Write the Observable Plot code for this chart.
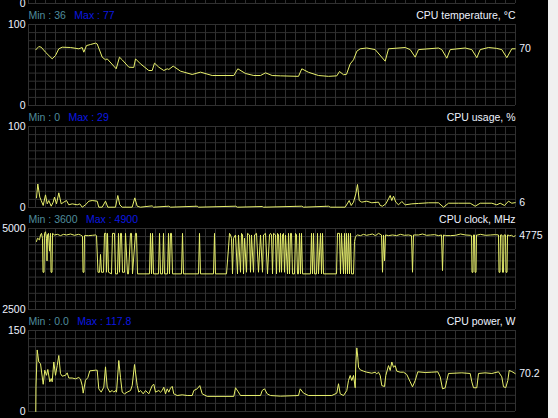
<!DOCTYPE html>
<html><head><meta charset="utf-8">
<script src="https://cdn.jsdelivr.net/npm/d3@7"></script>
<script src="https://cdn.jsdelivr.net/npm/@observablehq/plot@0.6"></script>
<style>
html,body{margin:0;padding:0;background:#000;overflow:hidden}
#wrap{position:relative;width:558px;height:418px;background:#000;overflow:hidden}
#scroll{position:absolute;left:548px;top:0;width:10px;height:418px;background:#f0f0f0}
.panel{position:absolute;left:0}
</style></head><body><div id="wrap"><div id="scroll"></div></div>
<script>
// ---- data ----
const titles = ["CPU temperature, °C", "CPU usage, %", "CPU clock, MHz", "CPU power, W"];
const minLabels = ["Min : 36", "Min : 0", "Min : 3600", "Min : 0.0"];
const maxLabels = ["Max : 77", "Max : 29", "Max : 4900", "Max : 117.8"];
const domains = [[0, 100], [0, 100], [2500, 5000], [0, 150]];

const tempT = [0.3,3.3,5.7,10,16.7,20,23.3,26.7,35,43.3,46.7,48.3,51,55,60,61.7,66.7,70,71.7,80.7,84,86.7,93.3,98.3,100,105,113.3,116.7,119,123.3,128.3,131.7,133.3,137.7,145,156.7,165,176.7,198.3,202.3,210,218.3,225,230,236.7,245,263,266.3,273,283,293,301.3,304,308,311,314.7,318,321.3,324.7,331.3,339.7,349.7,353,369.7,374.7,379.7,383,403,406.3,411.3,414.7,429.7,436.3,441.3,444.7,453,461.3,466.3,471.3,476.3,479.7];
const tempV = [68.8,72.8,72,65.8,57.6,61.7,70,72,71.6,70,71.6,65.8,74,75.3,77,76,59.7,56.4,57.6,45.3,59.7,56.4,47.3,47,57.6,51.4,43.2,43.2,52.3,47.3,43.2,45.3,44.5,48.6,42.4,38.3,41.2,37,37,45.3,39.5,37,37,40.3,37,36.6,36,45.3,41,37,36,36.6,42,38,38.5,51.4,56.4,67,70,71,69,54.7,70,71.6,69,59.7,69,71,69,58.4,69,71,69,59,69,71.6,70.5,69,59,70,70];

const usageT = [1,2.3,4.3,5.7,7.7,10,11.7,13.3,15.7,17.7,19,21,23.3,25.7,28.3,31,33.3,36.7,41.7,44.3,46.7,50,53.3,56.7,61.7,63.3,66.7,70,72.3,80,82.3,84.3,86.7,96.7,99.3,101.7,105,116.7,118,133.3,135,161.7,163,200,202,226.7,228,266.3,268,293,295,309.7,313.7,315.7,318,320.3,322,323.7,326.3,331.3,336.3,343,344.7,347,350.3,353,354.7,356.3,358,360.3,363,366.3,369.7,376.3,383,393,403,408,413,423,434.7,439.7,444.7,456.3,461.3,464.7,469,473,476.3,479.7];
const usageV = [11.9,29,12.8,8.6,2.5,15.6,4.5,8.6,1.6,6.6,12.8,4.5,18.1,4.5,6.6,8.6,3.3,4.5,3.3,4.5,0.4,3.3,7.8,8.6,7.8,0.4,0.4,7.8,0.4,0.4,14.8,3.3,0.4,0.4,11.9,1.6,0.4,2,0.4,1.6,0.4,1.6,0.4,1.6,0.4,1.2,0.4,1.6,0.4,1.6,0.4,0.4,8.6,2.5,6.6,16.9,28.4,8.6,6.6,7.8,5.8,6.6,2.5,1.6,4.5,10.7,14.8,8.6,14,6.6,3.3,7.4,3.3,4.5,5,5.8,5.8,0.4,5.3,5.3,5.3,1.6,5.3,5.3,3.3,5.3,2.5,7.8,5.3,6];

const clockT = [1,2,4,5,6,7,7.5,8.5,9,10,11,11.5,12,13,14,15,15.5,16.5,17,19,22,25,28,31,35,39,43,45,47,47.5,48.5,49,53,57,60,61,62.5,64,65,66,68,69,70.5,71,72,73,76,77,79,80,82,83,84,85,86,87,89,90,92,93,95,96,97,100,101,102,114,115,116,117,118,123,124,125,127,128,129,132,133,134,135,136,137,146,147,148,163,164,165,178,179,180,191,193,194,195,196,197,198,200,202,203,205,206,207,208,209,211,212,214,215,216,218,219,221,223,225,227,228,230,232,234,235,236,237,238,240,241,242,243,244,245,246,247,248,249,250,252,253,254,255,256,257,259,260,261,262,263,264,265,266,267,275,276,277,278,279,281,282,283,285,286,287,288,301,302,304,305,306,308,309,310,311,312,313,314,315,316,318,319,320,322,325,328,331,334,337,340,343,346,347,348,349,350,353,357,361,365,369,373,376,377,378,383,387,391,395,399,403,406,407,408,410,415,420,425,430,435,436,436.5,437.5,438,439,439.5,440.5,441,442,445,450,455,460,463,463.5,464.5,465,466.5,467,468,468.5,470,470.5,471.5,472,474,476,478,479.7];
const clockV = [4600,4700,4650,4800,4850,4700,3650,3650,4850,4900,4700,4000,4800,4850,4300,4850,3650,3650,4850,4800,4820,4780,4820,4800,4830,4790,4820,4800,4760,3650,3650,4780,4780,4790,4800,4780,3650,3650,4200,3650,3650,4850,4850,3650,4850,3650,3600,4850,4850,3600,3600,4850,3650,4850,4850,3650,3650,4850,3600,3600,4850,4850,3600,4850,4850,3600,3600,4850,3600,4850,3600,3600,4850,3600,3600,4850,3600,3600,4850,3600,4850,4850,3600,3600,4850,3600,3600,4850,3600,3600,4850,3600,3600,4400,4850,4800,4700,3600,4700,4800,3600,4800,3650,4850,4800,3600,4700,3650,4850,4800,3650,4800,3650,4800,4850,3650,4800,3650,4800,4850,3600,4800,4850,4800,3600,4850,4800,3600,4850,4800,3650,4850,3650,4800,4850,3650,4800,3600,4850,3600,4850,4850,3600,3600,4850,4800,3600,3600,4850,3600,4850,3600,3600,4850,3600,4850,3600,3600,4850,3600,4850,3600,4850,3600,3600,4850,4850,3600,4850,3600,4850,3600,4850,3600,4850,3600,4850,3600,3600,4600,4750,4800,4780,4820,4790,4810,4830,4780,4850,4800,3650,4800,4000,4800,4780,4800,4780,4820,4790,4800,4780,3650,4800,4800,4830,4790,4800,4810,4780,4800,3700,4800,4780,4780,4790,4830,4800,4790,4780,3650,3650,4800,4800,3650,3650,4800,4800,4820,4790,4800,4810,4800,3650,3650,4800,4800,3650,3650,4800,4800,3650,3650,4800,4780,4790,4750,4775];

const powerT = [0.3,0.5,1.7,3.3,5,7.7,9.3,11,12.3,14.3,15.7,16.7,18.3,20,21.7,23.3,25,26.7,30,31.7,33.3,36.7,40,43.3,45,46.7,47.7,50,52.3,54.3,60,61.7,63.3,65.7,68.3,70,71.7,74.3,76.7,78.3,80,81,83.3,85,86.7,89,91.7,95,96.7,99,101.7,103.3,105,107.7,110,113.3,116.7,118.3,120,123.3,125,126.7,128.3,130,131.7,133.3,135,136.7,138.3,141.7,146.7,151.7,156.7,158.3,161.7,164.3,166.7,171.7,198.3,200,202.3,205,225,226.7,229,231.7,235,245,263,264.7,268,273,296.3,301.3,303,304.7,308,311.3,313,314.7,316.3,318,319.7,320.3,321.3,322.3,323,324.7,328,331.3,336.3,339.7,341.3,343,344.7,346.3,349,350.3,353,354.7,356.3,358,359.7,361.3,364.7,368,371.3,374.7,377,379.7,382.3,389.7,396.3,402.3,404.7,407,409.7,411.3,413,426.3,434.7,436.3,438,441.3,443,449.7,456.3,463,466.3,468,470.3,472.3,473.7,476.3,479.7];
const powerV = [0,47,114,91.7,88.6,50.4,76.5,67,77.8,54.9,61,55,91.7,67,85,103.7,70,65.4,67,71.6,62,62,60.5,63,60,48,34,58,62.6,75.3,76.5,76.5,41.9,35.8,45,82.7,45,35.8,38.9,35.8,38.9,35.8,94.4,62.6,35.8,32.7,35.8,38.9,48,87,48,35.8,38.9,32.7,38.9,32.7,48,50.4,35.8,38.9,35.8,38.9,45,32.7,42,35.8,43.4,46.6,32.7,29.6,30.9,29.6,29.6,38.9,42,48,32.7,28,28,44,37.7,29.6,29.6,38.9,42,32.7,29.6,28.4,29.6,42,34,29.6,29.6,34,51.4,32.7,29.6,38.9,57.4,66.7,57.4,66.7,44,88.3,117.8,100.6,82,77.2,74.7,72.8,70.9,72.8,69.8,72.8,66.7,48,46.3,66.7,85,75.9,91.7,82,85,74.7,72.8,72.8,68.5,54.9,45.7,57.4,73.5,72.2,72.8,73.5,64.2,42,43.8,57.4,70.4,71.6,70.4,54.9,44,44,70.4,71.6,70.4,73.5,64.2,45.7,44.4,57.4,76,74,70.2];

const seriesT = [tempT, usageT, clockT, powerT];
const seriesV = [tempV, usageV, clockV, powerV];

// ---- style ----
const FONT = "Liberation Sans, Arial, sans-serif";
const FSIZE = 10.5;
const GRID = "#303030";
const LINE = "#e8f06c";
const MINC = "#4f8c9c";
const MAXC = "#0c18e0";
const TXT = "#eef3ff";
const XDOM = [-7, 480];

const ctx = document.createElement("canvas").getContext("2d");
ctx.font = `${FSIZE}px ${FONT}`;

function panel(i, topPx) {
  const dom = i >= 0 ? domains[i] : [0, 100];
  const [lo, hi] = dom;
  const hLines = d3.range(11).map(k => lo + (hi - lo) * k / 10);
  const vLines = d3.range(0, 481, 10);
  const marks = [
    Plot.ruleY(hLines, {stroke: GRID, strokeWidth: 1}),
    Plot.ruleX(vLines, {stroke: GRID, strokeWidth: 1}),
    Plot.ruleX([XDOM[0]], {stroke: GRID, strokeWidth: 1})
  ];
  if (i >= 0) {
    const data = seriesT[i].map((t, k) => ({t, v: seriesV[i][k]}));
    const last = data[data.length - 1];
    const minW = ctx.measureText(minLabels[i]).width;
    marks.push(
      Plot.line(data, {x: "t", y: "v", stroke: LINE, strokeWidth: 1}),
      Plot.text([titles[i]], {frameAnchor: "top-right", lineAnchor: "middle", dy: -9, fill: TXT}),
      Plot.text([minLabels[i]], {frameAnchor: "top-left", lineAnchor: "middle", dy: -9, fill: MINC}),
      Plot.text([maxLabels[i]], {frameAnchor: "top-left", lineAnchor: "middle", dy: -9, dx: minW + 8.5, fill: MAXC}),
      Plot.text([last], {x: "t", y: "v", text: d => String(d.v), dx: 4, textAnchor: "start", fill: TXT})
    );
  }
  const svg = Plot.plot({
    width: 548, height: 102,
    marginLeft: 28, marginRight: 33, marginTop: 20, marginBottom: 1,
    style: {background: "transparent", color: TXT, fontFamily: FONT, fontSize: FSIZE + "px", overflow: "visible"},
    x: {domain: XDOM, axis: null},
    y: {domain: dom, ticks: [lo, hi], tickSize: 0, tickPadding: 3, tickFormat: d => String(d), label: null},
    marks
  });
  svg.classList.add("panel");
  svg.style.top = topPx + "px";
  svg.style.position = "absolute";
  svg.style.left = "0px";
  svg.style.overflow = "visible";
  document.getElementById("wrap").appendChild(svg);
}

panel(-1, -98);
for (let i = 0; i < 4; i++) panel(i, 4 + 102 * i);
</script></body></html>
